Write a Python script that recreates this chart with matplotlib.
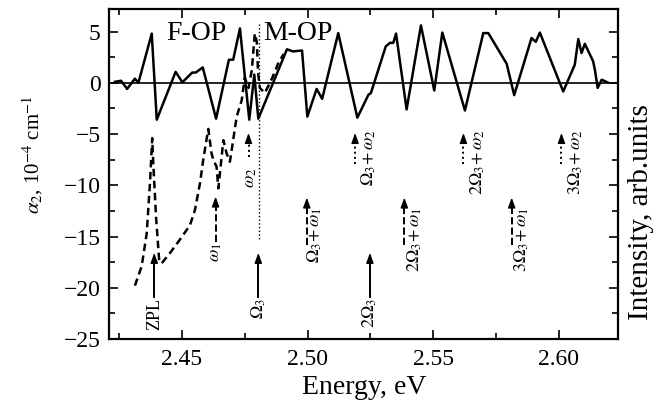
import numpy as np
import matplotlib
matplotlib.use("Agg")
import matplotlib.pyplot as plt
from matplotlib.ticker import MultipleLocator, FormatStrFormatter

plt.rcParams['font.family'] = ['Liberation Serif', 'DejaVu Serif']
plt.rcParams['mathtext.fontset'] = 'stix'
plt.rcParams['axes.unicode_minus'] = True

# === данные: интенсивность (сплошная) ===
e_int = [2.4234, 2.4258, 2.4282, 2.4313, 2.4327, 2.4380, 2.4400, 2.4475, 2.4502,
         2.4541, 2.4555, 2.4583, 2.4636, 2.4687, 2.4704, 2.4731, 2.4768, 2.4788,
         2.4804, 2.4918, 2.4942, 2.4978, 2.4999, 2.5036, 2.5058, 2.5122, 2.5198,
         2.5242, 2.5252, 2.5311, 2.5328, 2.5341, 2.5352, 2.5394, 2.5451, 2.5504,
         2.5536, 2.5626, 2.5699, 2.5719, 2.5792, 2.5822, 2.5891, 2.5908, 2.5924,
         2.6017, 2.6063, 2.6077, 2.6090, 2.6103, 2.6136, 2.6143, 2.6154, 2.6170,
         2.6194]
intensity = [0.1, 0.2, -0.6, 0.4, 0.0, 4.8, -3.6, 1.07, 0.05,
             1.0, 1.0, 1.5, -3.5, 2.25, 2.25, 5.3, -3.6, 0.8,
             -3.5, 3.27, 3.06, 3.15, -3.3, -0.6, -1.56, 4.85, -3.4,
             -1.17, -1.0, 3.55, 3.9, 3.9, 4.8, -2.6, 5.6, -0.75,
             4.9, -2.7, 4.85, 4.85, 1.86, -1.2, 4.37, 4.0, 4.9,
             -0.85, 1.76, 4.27, 2.9, 3.8, 2.1, 1.27, -0.5, 0.3,
             0.03]

# === данные: alpha_2 (пунктир) ===
e_alpha = [2.4313, 2.4340, 2.4360, 2.4373, 2.4382, 2.4386, 2.4397, 2.4410, 2.4420,
           2.4453, 2.4492, 2.4532, 2.4552, 2.4572, 2.4585, 2.4605, 2.4618, 2.4625,
           2.4638, 2.4645, 2.4665, 2.4678, 2.4691, 2.4718, 2.4738, 2.4750, 2.4765,
           2.4778, 2.4790, 2.4798, 2.4803, 2.4810, 2.4830, 2.4860, 2.4885, 2.4905]
alpha2 = [-19.8, -17.9, -14.7, -9.8, -5.4, -7.8, -13.05, -17.45, -17.6,
          -16.6, -15.3, -13.9, -12.4, -9.8, -7.5, -4.5, -6.9, -7.5,
          -8.2, -10.3, -5.6, -6.9, -7.7, -3.3, -1.7, 0.5, -0.5,
          1.2, 4.8, 4.0, 1.0, -0.5, -1.0, 0.5, 2.0, 2.8]

# === стрелки ===
arrow_x = [2.4390, 2.4804, 2.5248, 2.4634, 2.4997, 2.5385, 2.5812, 2.4765, 2.5189, 2.5620, 2.6010]
arrow_y0 = [-20.9, -20.9, -20.9, -15.5, -15.8, -15.8, -15.8, -7.2, -7.9, -7.9, -7.9]
arrow_y1 = [-16.6, -16.6, -16.6, -11.1, -11.2, -11.2, -11.2, -4.9, -4.9, -4.9, -4.9]
arrow_ls = ['-', '-', '-', '--', '--', '--', '--', ':', ':', ':', ':']
arrow_labels = ['ZPL', r'$\Omega_3$', r'$2\Omega_3$', r'$\omega_1$',
                r'$\Omega_3\!+\omega_1$', r'$2\Omega_3\!+\omega_1$', r'$3\Omega_3\!+\omega_1$',
                r'$\omega_2$', r'$\Omega_3\!+\omega_2$', r'$2\Omega_3\!+\omega_2$', r'$3\Omega_3\!+\omega_2$']
label_x = [2.4390, 2.4804, 2.5248, 2.4634, 2.4994, 2.5388, 2.5815, 2.4772, 2.5208, 2.5640, 2.6030]
label_y = [-21.0, -21.0, -21.0, -15.6, -12.2, -12.2, -12.2, -8.3, -4.6, -4.6, -4.6]
label_ha = ['center', 'center', 'center', 'center', 'left', 'left', 'left',
            'center', 'left', 'left', 'left']

fig, ax = plt.subplots(figsize=(6.59, 4.04), dpi=100)
fig.subplots_adjust(left=0.1654, right=0.9378, bottom=0.1609, top=0.9777)

ax.axhline(0, color='black', lw=1.2, zorder=1)
ax.plot(e_int, intensity, color='black', lw=1.8, zorder=3)
ax.plot(e_alpha, alpha2, color='black', lw=1.8, dashes=(3, 1.8), zorder=2)
ax.plot([2.4805, 2.4805], [5.7, -15.3], color='black', lw=1.0, ls=':', zorder=2)

for x, y0, y1, ls, lab, lx, ly, ha in zip(arrow_x, arrow_y0, arrow_y1, arrow_ls,
                                          arrow_labels, label_x, label_y, label_ha):
    ax.plot([x, x], [y0, y1 - 0.6], color='black', lw=1.4, ls=ls)
    ax.annotate('', xy=(x, y1), xytext=(x, y1 - 0.8),
                arrowprops=dict(arrowstyle='-|>,head_length=0.6,head_width=0.22',
                                color='black', lw=1.0, shrinkA=0, shrinkB=0,
                                mutation_scale=10))
    ax.text(lx, ly, lab, rotation=90, ha=ha, va='top', fontsize=13)

ax.text(2.4556, 4.8, 'F-OP', fontsize=20, ha='center', va='center')
ax.text(2.4962, 4.8, 'M-OP', fontsize=20, ha='center', va='center')

ax.set_xlim(2.421, 2.6235)
ax.set_ylim(-25, 7.2)
ax.xaxis.set_major_locator(MultipleLocator(0.05))
ax.xaxis.set_minor_locator(MultipleLocator(0.025))
ax.xaxis.set_major_formatter(FormatStrFormatter('%.2f'))
ax.yaxis.set_major_locator(MultipleLocator(5))
ax.yaxis.set_minor_locator(MultipleLocator(2.5))
ax.tick_params(which='both', direction='in', top=True, right=True, labelsize=17, width=1.2)
ax.tick_params(axis='x', which='both', pad=7)
ax.tick_params(axis='y', which='both', pad=6)
ax.tick_params(which='major', length=6.5)
ax.tick_params(which='minor', length=4.5)
for s in ax.spines.values():
    s.set_linewidth(1.6)

fig.text(364 / 659, 1 - 388 / 404, 'Energy, eV', ha='center', va='center', fontsize=20)
fig.text(33 / 659, 1 - 155 / 404, r'$\alpha_2$, 10$^{-4}$ cm$^{-1}$', rotation=90,
         ha='center', va='center', fontsize=15)
fig.text(641 / 659, 1 - 212 / 404, 'Intensity, arb.units', rotation=90,
         ha='center', va='center', fontsize=21)

plt.savefig('out.png', dpi=100)
